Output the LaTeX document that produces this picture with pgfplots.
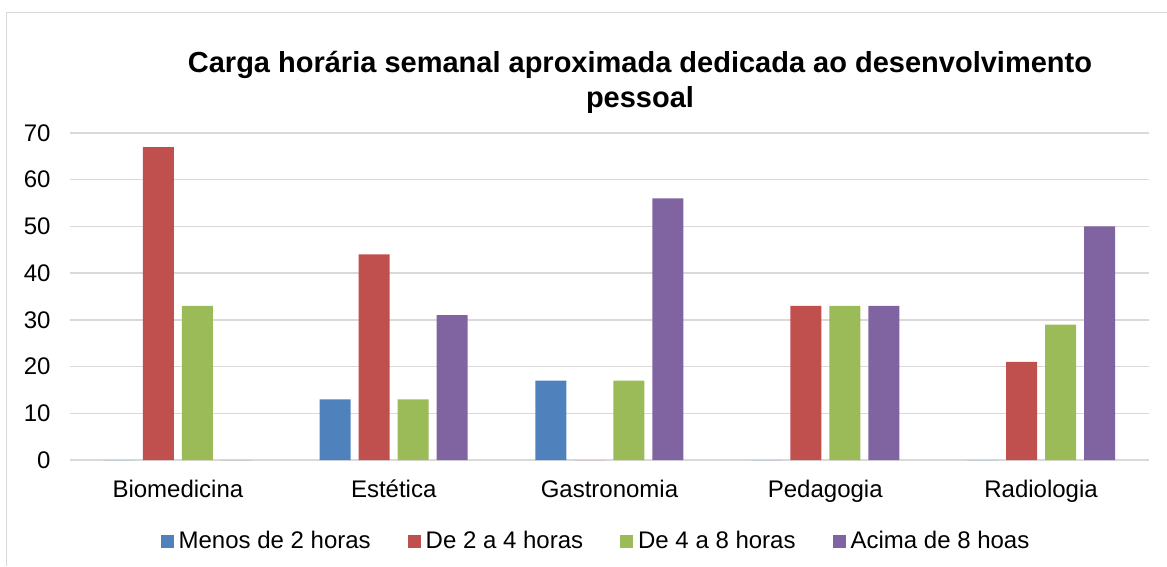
\documentclass[border=0pt]{standalone}
\usepackage{fontspec}
\setmainfont{Liberation Sans}
\usepackage{pgfplots}
\pgfplotsset{compat=1.18}
\definecolor{cblue}{HTML}{4F81BD}
\definecolor{cred}{HTML}{C0504D}
\definecolor{cgreen}{HTML}{9BBB59}
\definecolor{cpurple}{HTML}{8064A2}
\definecolor{gridc}{HTML}{D9D9D9}
\begin{document}
\begin{tikzpicture}
\useasboundingbox (0,0) rectangle (1167pt,566pt);
\draw[gridc, line width=1pt] (6pt,0) -- (6pt,553pt) -- (1167pt,553pt);
\begin{axis}[
    at={(70pt,106pt)}, anchor=south west,
    scale only axis, width=1079pt, height=327pt,
    ymin=0, ymax=70, ytick={0,10,...,70},
    xmin=-0.5, xmax=4.5, xtick=data,
    xticklabels={Biomedicina,Estética,Gastronomia,Pedagogia,Radiologia},
    ybar=8pt, bar width=31pt,
    axis line style={draw=none},
    major tick length=0pt,
    ymajorgrids, grid style={gridc, line width=1.4pt},
    tick label style={font=\fontsize{24}{28}\selectfont},
    yticklabel style={xshift=-16pt},
    xticklabel style={yshift=-16pt, text height=17.5pt, text depth=5pt},
    /pgf/number format/assume math mode=true,
    legend columns=4,
    legend style={draw=none, font=\fontsize{24}{28}\selectfont,
        at={(0.4875,-0.2477)}, anchor=center,
        /tikz/every even column/.append style={column sep=35pt}},
    legend image code/.code={\fill[#1] (0pt,-6.5pt) rectangle (13pt,6.5pt); \path (16pt,0pt);},
]
\addplot[fill=cblue, draw=none] coordinates {(0,0) (1,13) (2,17) (3,0) (4,0)};
\addplot[fill=cred, draw=none] coordinates {(0,67) (1,44) (2,0) (3,33) (4,21)};
\addplot[fill=cgreen, draw=none] coordinates {(0,33) (1,13) (2,17) (3,33) (4,29)};
\addplot[fill=cpurple, draw=none] coordinates {(0,0) (1,31) (2,56) (3,33) (4,50)};
\legend{Menos de 2 horas, De 2 a 4 horas, De 4 a 8 horas, Acima de 8 hoas}
\end{axis}
\node[font=\fontsize{29}{35}\selectfont\bfseries, align=center] at (640pt,484pt)
    {Carga horária semanal aproximada dedicada ao desenvolvimento\\pessoal};
\end{tikzpicture}
\end{document}
